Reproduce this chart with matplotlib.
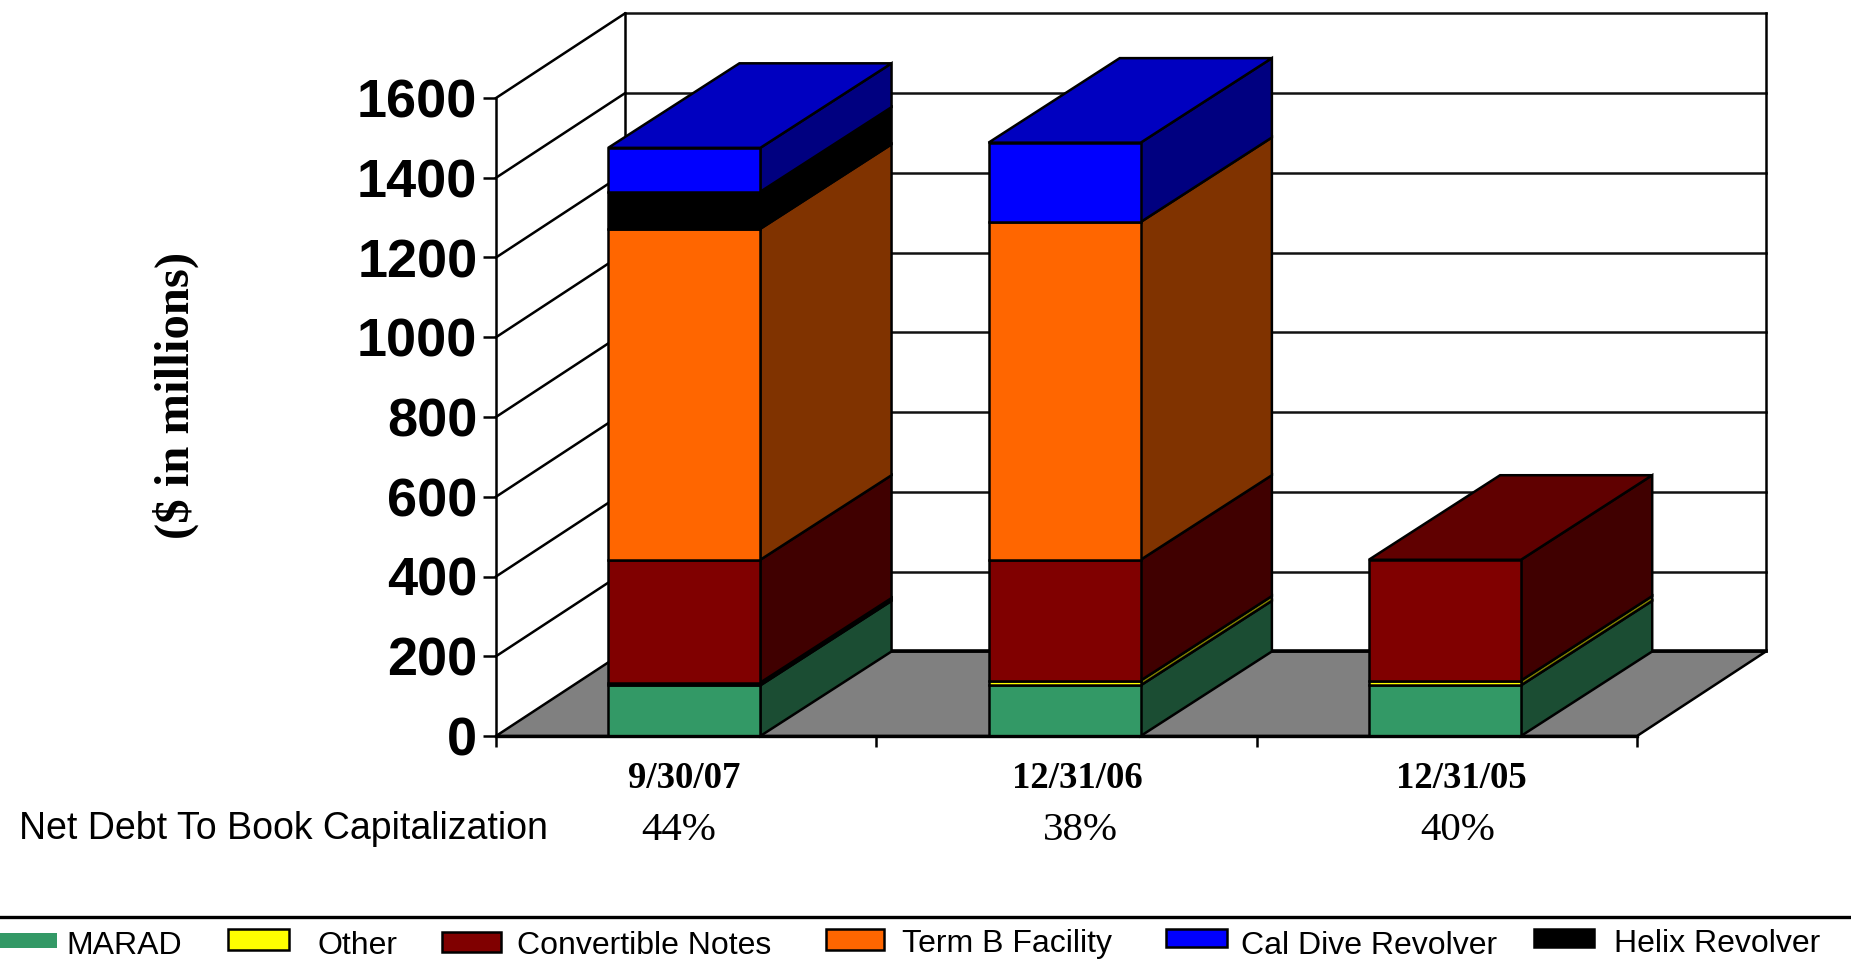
import matplotlib
matplotlib.use('Agg')
import matplotlib.pyplot as plt
from matplotlib.patches import Polygon, Rectangle

# values ($ in millions)
categories = ['9/30/07', '12/31/06', '12/31/05']
ratios = ['44%', '38%', '40%']
marad = [127, 127, 127]
other = [7, 12, 12]
convertible = [308, 303, 303]
term_b = [830, 847, 0]
helix = [93, 0, 0]
cal_dive = [110, 199, 0]
y_ticks = [0, 200, 400, 600, 800, 1000, 1200, 1400, 1600]

series = [marad, other, convertible, term_b, helix, cal_dive]
names = ['MARAD', 'Other', 'Convertible Notes', 'Term B Facility', 'Helix Revolver', 'Cal Dive Revolver']
front_cols = ['#339966', '#FFFF00', '#800000', '#FF6600', '#000000', '#0000FF']
side_cols = ['#1B4D33', '#808000', '#400000', '#803300', '#000000', '#000080']
top_cols = ['#267350', '#C0C000', '#600000', '#C04D00', '#000000', '#0000C0']
legend_order = [0, 1, 2, 3, 5, 4]

W, H = 1851, 963
SANS = 'Liberation Sans'
SERIF = 'Liberation Serif'

fig = plt.figure(figsize=(W/100, H/100), dpi=100, facecolor='white')

# the axes box is the front face of the 3d chart
ax = fig.add_axes([496/W, (H-736)/H, (1637-496)/W, (736-98)/H])
ax.set_xlim(0, 3)
ax.set_ylim(0, 1600)
ax.patch.set_visible(False)
ax.spines['top'].set_visible(False)
ax.spines['right'].set_visible(False)
ax.spines['left'].set_linewidth(1.8)
ax.spines['bottom'].set_linewidth(2.4)
ax.spines['bottom'].set_zorder(6)

# depth of the chart in data units
dx = 0.339
dy = 212
bar_dx = 0.345
top = y_ticks[-1]
line_w = 1.8

# floor
ax.add_patch(Polygon([(0, 0), (3, 0), (3+dx, dy), (dx, dy)], closed=True, fc='#808080', ec='black',
                     lw=line_w, clip_on=False, zorder=2))
ax.plot([dx, 3+dx], [dy, dy], color='black', lw=2.6, clip_on=False, zorder=2)

# back wall and left wall
for v in y_ticks:
    if v > 0:
        ax.plot([dx, 3+dx], [v+dy, v+dy], color='#111111', lw=line_w, clip_on=False, zorder=1)
        ax.plot([0, dx], [v, v+dy], color='black', lw=line_w, clip_on=False, zorder=1)
ax.plot([dx, dx], [dy, top+dy], color='black', lw=line_w, clip_on=False, zorder=1)
ax.plot([3+dx, 3+dx], [dy, top+dy], color='black', lw=line_w, clip_on=False, zorder=1)

# stacked boxes
bar_w = 0.4
for i in range(len(categories)):
    x0 = i + 0.495 - bar_w/2
    x1 = x0 + bar_w
    base = 0
    last = max(j for j in range(len(series)) if series[j][i] > 0)
    for j in range(len(series)):
        v = series[j][i]
        if v == 0:
            continue
        t = base + v
        ax.add_patch(Polygon([(x1, base), (x1+bar_dx, base+dy), (x1+bar_dx, t+dy), (x1, t)], closed=True,
                             fc=side_cols[j], ec='black', lw=line_w, clip_on=False, zorder=3))
        ax.add_patch(Polygon([(x0, base), (x1, base), (x1, t), (x0, t)], closed=True,
                             fc=front_cols[j], ec='black', lw=line_w, clip_on=False, zorder=4))
        if j == last:
            ax.add_patch(Polygon([(x0, t), (x1, t), (x1+bar_dx, t+dy), (x0+bar_dx, t+dy)], closed=True,
                                 fc=top_cols[j], ec='black', lw=line_w, clip_on=False, zorder=4))
        base = t

ax.set_yticks(y_ticks)
ax.set_xticks([0, 1, 2, 3])
ax.set_xticklabels([])
ax.tick_params(axis='y', length=9.4, width=1.8, pad=4)
ax.tick_params(axis='x', length=8, width=1.8)
for lab in ax.get_yticklabels():
    lab.set_fontfamily(SANS)
    lab.set_fontweight('bold')
    lab.set_fontsize(39)

# overlay in pixel coordinates for the loose text and the legend
ov = fig.add_axes([0, 0, 1, 1], zorder=10)
ov.set_xlim(0, W)
ov.set_ylim(H, 0)
ov.axis('off')

ov.text(176, 395, '($ in millions)', rotation=90, ha='center', va='center',
        family=SERIF, fontweight='bold', fontsize=35)

cat_x = [684, 1077, 1461]
ratio_x = [679, 1080, 1458]
for i in range(len(categories)):
    ov.text(cat_x[i], 779, categories[i], ha='center', va='center', family=SERIF,
            fontweight='bold', fontsize=26.5)
    ov.text(ratio_x[i], 830, ratios[i], ha='center', va='center', family=SERIF, fontsize=29.5)
ov.text(19, 829, 'Net Debt To Book Capitalization', ha='left', va='center', family=SANS, fontsize=27)

# legend
ov.plot([0, W], [917, 917], color='black', lw=2.4)
swatch_x0 = [0, 228, 442, 826, 1166, 1534]
swatch_x1 = [57, 289, 501, 884, 1227, 1594]
swatch_y0 = [933, 929, 932, 929, 929, 929]
swatch_y1 = [948, 950, 952, 950, 947, 947]
label_x = [66, 317, 517, 902, 1241, 1614]
label_y = [946, 946, 946, 944, 946, 944]
for n in range(len(legend_order)):
    j = legend_order[n]
    ec = 'none' if n == 0 else 'black'
    ov.add_patch(Rectangle((swatch_x0[n], swatch_y0[n]), swatch_x1[n]-swatch_x0[n], swatch_y1[n]-swatch_y0[n],
                           fc=front_cols[j], ec=ec, lw=1.8))
    ov.text(label_x[n], label_y[n], names[j], ha='left', va='center', family=SANS, fontsize=23)

fig.savefig('out.png', dpi=100, facecolor='white')
